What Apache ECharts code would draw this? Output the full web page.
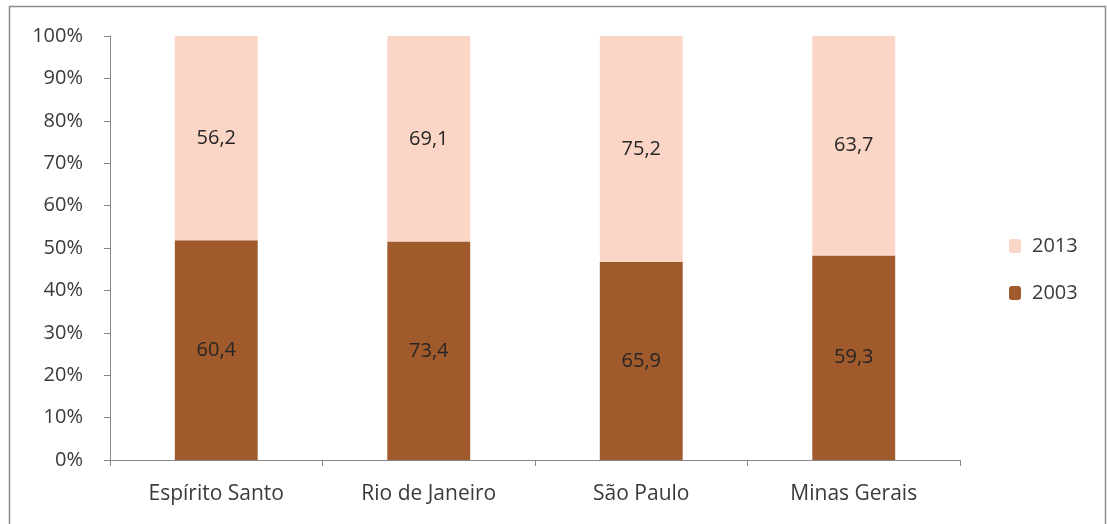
<!DOCTYPE html>
<html>
<head>
<meta charset="utf-8">
<script src="https://cdn.jsdelivr.net/npm/echarts@6/dist/echarts.min.js"></script>
<style>
  html, body { margin: 0; padding: 0; background: #ffffff; }
  #chart { width: 1107px; height: 524px; }
</style>
</head>
<body>
<div id="chart"></div>
<script>
// States and the index value for each year
const categories = ['Espírito Santo', 'Rio de Janeiro', 'São Paulo', 'Minas Gerais'];
const values2003 = [60.4, 73.4, 65.9, 59.3];
const values2013 = [56.2, 69.1, 75.2, 63.7];
const yTickLabels = ['0%', '10%', '20%', '30%', '40%', '50%', '60%', '70%', '80%', '90%', '100%'];

// 100% stacked: each year's share of the state's total
const share = (a, b) => a.map((v, i) => (v / (v + b[i])) * 100);
const share2003 = share(values2003, values2013);
const share2013 = share(values2013, values2003);

const fontFamily = '"Open Sans", "Noto Sans", sans-serif';
const fontSize = 20;
const textColor = '#3a3a3a';
const axisColor = '#868686';

const labelFmt = (raw) => (p) => raw[p.dataIndex].toFixed(1).replace('.', ',');

const chart = echarts.init(document.getElementById('chart'));
chart.setOption({
  animation: false,
  backgroundColor: '#ffffff',
  textStyle: { fontFamily: fontFamily },
  graphic: [{
    type: 'rect',
    shape: { x: 9.5, y: 6.5, width: 1096, height: 540 },
    style: { fill: 'none', stroke: '#8c8c8c', lineWidth: 1.5 },
    silent: true
  }],
  grid: { left: 110, right: 147, top: 36, bottom: 64 },
  legend: {
    orient: 'vertical',
    left: 1004,
    top: 231,
    itemWidth: 12,
    itemHeight: 14,
    itemGap: 27,
    data: ['2013', '2003'],
    textStyle: { fontSize: 20, color: textColor, fontFamily: fontFamily, padding: [0, 0, 0, 6] }
  },
  xAxis: {
    type: 'category',
    data: categories,
    boundaryGap: true,
    axisLine: { lineStyle: { color: axisColor, width: 1 } },
    axisTick: { show: true, alignWithLabel: false, length: 6, lineStyle: { color: axisColor } },
    axisLabel: { color: textColor, fontSize: 21, margin: 24, fontFamily: fontFamily },
    splitLine: { show: false }
  },
  yAxis: {
    type: 'value',
    min: 0,
    max: 100,
    interval: 10,
    axisLine: { show: true, lineStyle: { color: axisColor, width: 1 } },
    axisTick: { show: true, length: 6, lineStyle: { color: axisColor } },
    axisLabel: {
      color: textColor,
      fontSize: fontSize,
      margin: 27,
      fontFamily: fontFamily,
      formatter: (v) => yTickLabels[Math.round(v / 10)]
    },
    splitLine: { show: false }
  },
  series: [
    {
      name: '2003',
      type: 'bar',
      stack: 'total',
      barWidth: '39%',
      data: share2003,
      itemStyle: { color: '#A05A2C' },
      label: {
        show: true,
        position: 'inside',
        color: '#262626',
        fontSize: fontSize,
        fontFamily: fontFamily,
        formatter: labelFmt(values2003)
      }
    },
    {
      name: '2013',
      type: 'bar',
      stack: 'total',
      barWidth: '39%',
      data: share2013,
      itemStyle: { color: '#FBD5C5' },
      label: {
        show: true,
        position: 'inside',
        color: '#262626',
        fontSize: fontSize,
        fontFamily: fontFamily,
        formatter: labelFmt(values2013)
      }
    }
  ]
});
</script>
</body>
</html>
